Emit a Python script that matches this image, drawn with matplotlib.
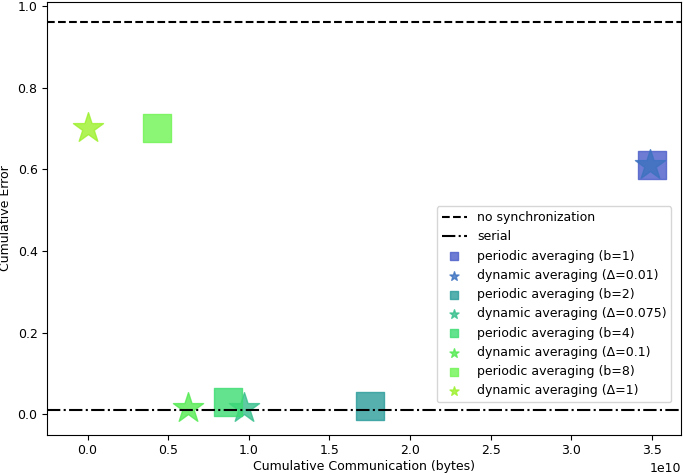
import matplotlib
matplotlib.use("Agg")
import matplotlib.pyplot as plt

# cumulative communication (bytes) and cumulative error per method
labels = ["periodic averaging (b=1)", "dynamic averaging (\u0394=0.01)",
          "periodic averaging (b=2)", "dynamic averaging (\u0394=0.075)",
          "periodic averaging (b=4)", "dynamic averaging (\u0394=0.1)",
          "periodic averaging (b=8)", "dynamic averaging (\u0394=1)"]
comm = [3.50e10, 3.49e10, 1.75e10, 0.97e10, 0.87e10, 0.62e10, 0.43e10, 0.0]
error = [0.61, 0.61, 0.02, 0.015, 0.03, 0.015, 0.70, 0.70]
markers = ["s", "*", "s", "*", "s", "*", "s", "*"]
colors = ["#4a5cc8", "#3c72c0", "#2a9c9a", "#36bf8c", "#3cdc72", "#52ea50", "#6ef452", "#9cf02c"]

no_sync = 0.96
serial = 0.01

plt.rcParams["font.size"] = 9

fig, ax = plt.subplots(figsize=(6.85, 4.75), dpi=100)
ax.axhline(no_sync, color="black", ls="--", lw=1.5, label="no synchronization")
ax.axhline(serial, color="black", ls="-.", lw=1.5, label="serial")
for x, y, m, c, lab in zip(comm, error, markers, colors, labels):
    size = 420 if m == "s" else 520
    ax.scatter(x, y, marker=m, s=size, color=c, alpha=0.8, label=lab)

ax.set_xlim(-0.25e10, 3.68e10)
ax.set_ylim(-0.05, 1.01)
ax.set_xlabel("Cumulative Communication (bytes)", labelpad=2)
ax.set_ylabel("Cumulative Error")
ax.legend(loc="lower right", bbox_to_anchor=(0.995, 0.06), markerscale=0.3, fontsize=9)

fig.subplots_adjust(left=0.069, right=0.994, top=0.996, bottom=0.085)
fig.savefig("out.png")
